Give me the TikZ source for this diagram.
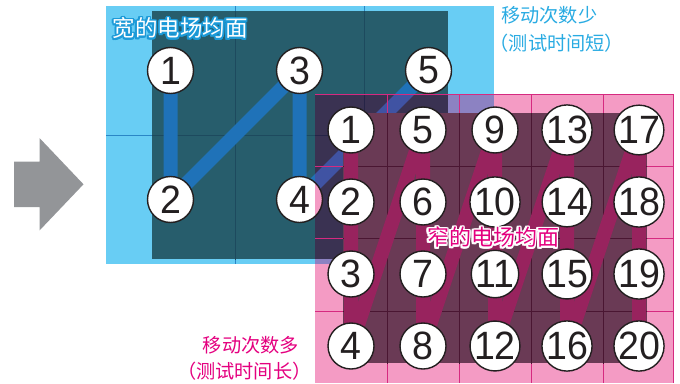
\documentclass[tikz,border=0pt]{standalone}
\usepackage{fontspec}
\setmainfont{Liberation Sans}
\newfontfamily\numfont[FakeStretch=0.95]{Liberation Sans}
\newfontfamily\cjk{Noto Sans CJK SC}
\newfontfamily\cjkh[RawFeature=+halt]{Noto Sans CJK SC}
\definecolor{lblue}{HTML}{68CDF4}
\definecolor{tealc}{HTML}{275D6C}
\definecolor{bgridl}{HTML}{2A86C6}
\definecolor{bgridd}{HTML}{1D4A5E}
\definecolor{bpathc}{HTML}{1F72B8}
\definecolor{lpink}{HTML}{F49BC4}
\definecolor{lav}{HTML}{8C82C2}
\definecolor{navyp}{HTML}{3A3252}
\definecolor{bpinkc}{HTML}{4053A3}
\definecolor{bgridp}{HTML}{262447}
\definecolor{dmaroon}{HTML}{6A3A55}
\definecolor{pgridl}{HTML}{D62A80}
\definecolor{pgridd}{HTML}{4A1632}
\definecolor{ppathc}{HTML}{98235E}
\definecolor{circline}{HTML}{231F20}
\definecolor{numtext}{HTML}{231F20}
\definecolor{cyantext}{HTML}{29ABE2}
\definecolor{magtext}{HTML}{E4007F}
\definecolor{arrowc}{HTML}{939598}
\definecolor{titleblue}{HTML}{1C9AD8}
\pgfdeclarelayer{bback}
\pgfdeclarelayer{bpath}
\pgfdeclarelayer{bfront}
\pgfdeclarelayer{pback}
\pgfdeclarelayer{ppath}
\pgfsetlayers{bback,bpath,bfront,pback,ppath,main}
% #1 name, #2 x,y, #3 outline colour, #4 text colour, #5 font, #6 text, #7 radius
\newcommand\halotext[7]{%
  \foreach \a in {0,22.5,...,337.5}{\node[inner sep=0pt,font=#5,text=#3] at ([shift={(\a:#7)}]#2) {#6};}%
  \node[inner sep=0pt,font=#5,text=#4] (#1) at (#2) {#6};%
}
\begin{document}
\begin{tikzpicture}[x=1pt,y=-1pt,
  numc/.style={circle,draw=circline,line width=1.4pt,fill=white,minimum size=46pt,
    inner sep=0pt,text=numtext,font=\numfont\fontsize{39.5}{39.5}\selectfont},
  bluepath/.style={draw=bpathc,line width=14pt,line join=round},
  pinkpath/.style={draw=ppathc,line width=14pt,line join=round},
  gridline/.style={line width=0.9pt},
  note/.style={inner sep=0pt,font=\cjkh\fontsize{19.2}{19.2}\selectfont}
]
\useasboundingbox (0,0) rectangle (680,383);

% grey arrow
\fill[arrowc] (14,161.5) -- (39.5,161.5) -- (39.5,138) -- (83.5,184.3) -- (39.5,230.5) -- (39.5,207) -- (14,207) -- cycle;

% ---------- blue (wide) field ----------
\begin{pgfonlayer}{bback}
\fill[lblue] (106,6) rectangle (494,264);
\fill[tealc] (152,11) rectangle (448,259);
\draw[gridline,bgridl] (235,6) -- (235,264) (364,6) -- (364,264) (106,135) -- (494,135);
\begin{scope}
\clip (152,11) rectangle (448,259);
\draw[gridline,bgridd] (235,6) -- (235,264) (364,6) -- (364,264) (106,135) -- (494,135);
\end{scope}
\end{pgfonlayer}

\begin{pgfonlayer}{bfront}
\node[numc] (b1) at (170.5,70.5) {1};
\node[numc] (b2) at (170.5,199.5) {2};
\node[numc] (b3) at (299.5,70.5) {3};
\node[numc] (b4) at (299.5,199.5) {4};
\node[numc] (b5) at (428.5,70.5) {5};
\end{pgfonlayer}

\begin{pgfonlayer}{bpath}
\draw[bluepath] (b1.center) -- (b2.center) -- (b3.center) -- (b4.center) -- (b5.center);
\end{pgfonlayer}

% ---------- pink (narrow) field ----------
\begin{pgfonlayer}{pback}
\fill[lpink] (315,94) rectangle (673,383);
\begin{scope}
\clip (315,94) rectangle (673,383);
\fill[lav] (106,6) rectangle (494,264);
\fill[navyp] (152,11) rectangle (448,259);
\draw[gridline,bgridp] (364,6) -- (364,264) (106,135) -- (494,135);
\draw[draw=bpinkc,line width=14pt] (b4.center) -- (b5.center);
\draw[draw=circline,line width=1.4pt,fill=lpink] (b4.center) circle (23pt);
\end{scope}
\fill[dmaroon] (343,113) rectangle (647,363);
\draw[gridline,pgridl] (387,94) -- (387,383) (459,94) -- (459,383) (531,94) -- (531,383) (603,94) -- (603,383)
  (315,166) -- (673,166) (315,238) -- (673,238) (315,311) -- (673,311)
  (315,94) -- (673,94) -- (673,383);
\begin{scope}
\clip (343,113) rectangle (647,363);
\draw[gridline,pgridd] (387,94) -- (387,383) (459,94) -- (459,383) (531,94) -- (531,383) (603,94) -- (603,383)
  (315,166) -- (673,166) (315,238) -- (673,238) (315,311) -- (673,311);
\end{scope}
\end{pgfonlayer}

\foreach \c in {0,...,4}{
  \foreach \r in {0,...,3}{
    \pgfmathtruncatemacro\n{4*\c+\r+1}
    \node[numc] (p\n) at (351+72*\c,130+72*\r) {\n};
  }
}

\begin{pgfonlayer}{ppath}
\draw[pinkpath] (p1.center) \foreach \i in {2,...,20}{ -- (p\i.center)};
\end{pgfonlayer}

% ---------- labels ----------
\halotext{wide}{180,28.5}{titleblue}{white}{\cjk\fontsize{22.5}{22.5}\selectfont}{宽的电场均面}{1.6pt}
\halotext{narrow}{493,237.5}{white}{magtext}{\cjk\fontsize{22}{22}\selectfont}{窄的电场均面}{1.8pt}

\node[note,text=cyantext,anchor=west] (few1) at (501,15) {移动次数少};
\node[note,text=cyantext,anchor=west] (few2) at (499,43) {（测试时间短）};
\node[note,text=magtext,anchor=east] (many1) at (299,345) {移动次数多};
\node[note,text=magtext,anchor=east] (many2) at (302,371) {（测试时间长）};
\end{tikzpicture}
\end{document}
